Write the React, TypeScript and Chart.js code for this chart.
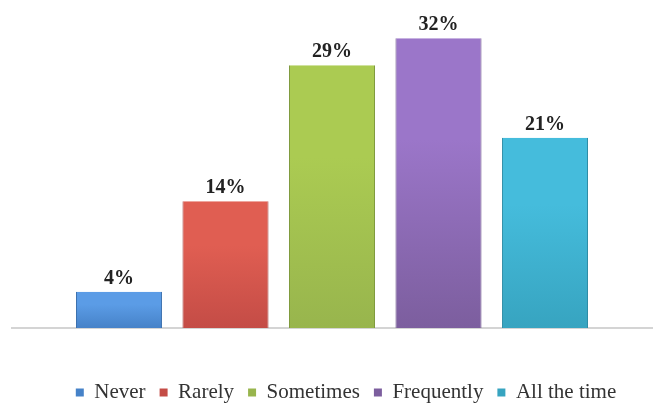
import React, { useEffect, useRef } from "react";
import { Chart, registerables } from "chart.js";

Chart.register(...registerables);

// Survey answers, share of respondents (%)
const responses = ["Never", "Rarely", "Sometimes", "Frequently", "All the time"];
const shares = [4, 14, 29, 32, 21];
// Top (lighter) and bottom (darker) tones of each bar
const topColors = ["#5b9ce6", "#e05e52", "#abcb52", "#9b76c9", "#45bcdc"];
const bottomColors = ["#4682c8", "#c44c46", "#98b54d", "#7c5e9e", "#37a4c0"];
const edgeColors = ["#3c70ad", "#a8403b", "#7f9a3e", "#674d86", "#2e8ca5"];

const SERIF = "'Liberation Serif', 'Times New Roman', serif";

const valueLabels = {
  id: "valueLabels",
  afterDatasetsDraw(chart: any) {
    const { ctx } = chart;
    ctx.save();
    ctx.font = `bold 20px ${SERIF}`;
    ctx.fillStyle = "#222222";
    ctx.textAlign = "center";
    ctx.textBaseline = "alphabetic";
    chart.data.datasets.forEach((ds: any, i: number) => {
      const meta = chart.getDatasetMeta(i);
      const bar = meta.data[0];
      if (!bar) return;
      ctx.fillText(`${ds.data[0]}%`, bar.x, bar.y - 8);
    });
    ctx.restore();
  },
};

// Nudge the legend row a little right and down from its default slot
const legendOffset = {
  id: "legendOffset",
  afterLayout(chart: any) {
    const lg = chart.legend;
    if (!lg) return;
    lg.left += 14;
    lg.right += 14;
    lg.top += 11;
    lg.bottom += 11;
  },
};

function barFill(i: number) {
  return (context: any) => {
    const chart = context.chart;
    const area = chart.chartArea;
    if (!area) return bottomColors[i];
    const yScale = chart.scales.y;
    const top = yScale.getPixelForValue(shares[i]);
    const bottom = yScale.getPixelForValue(0);
    if (!isFinite(top) || !isFinite(bottom) || bottom - top < 1) return bottomColors[i];
    const g = chart.ctx.createLinearGradient(0, top, 0, bottom);
    g.addColorStop(0, topColors[i]);
    g.addColorStop(0.35, topColors[i]);
    g.addColorStop(1, bottomColors[i]);
    return g;
  };
}

export default function App() {
  const canvasRef = useRef<HTMLCanvasElement | null>(null);

  useEffect(() => {
    document.body.style.margin = "0";
    const canvas = canvasRef.current;
    if (!canvas) return;
    const chart = new Chart(canvas, {
      type: "bar",
      data: {
        labels: [""],
        datasets: responses.map((name, i) => ({
          label: name,
          data: [shares[i]],
          backgroundColor: barFill(i),
          borderColor: edgeColors[i],
          borderWidth: { left: 1, right: 1, top: 0, bottom: 0 },
          categoryPercentage: 0.832,
          barPercentage: 0.808,
        })),
      },
      options: {
        animation: false,
        responsive: false,
        maintainAspectRatio: false,
        layout: { padding: { left: 12, right: 10, top: 11, bottom: 6 } },
        scales: {
          x: {
            display: true,
            grid: { display: false },
            ticks: { display: false },
            border: { display: true, color: "#d4d4d4", width: 2 },
            afterFit: (scale: any) => {
              scale.height = 29;
            },
          },
          y: {
            display: false,
            min: 0,
            max: 35,
          },
        },
        plugins: {
          title: { display: false },
          tooltip: { enabled: false },
          legend: {
            display: true,
            position: "bottom",
            labels: {
              boxWidth: 8,
              boxHeight: 8,
              padding: 14,
              color: "#333333",
              font: { family: SERIF, size: 21 },
              generateLabels: (c: any) =>
                c.data.datasets.map((ds: any, i: number) => ({
                  text: ds.label,
                  fillStyle: bottomColors[i],
                  strokeStyle: bottomColors[i],
                  lineWidth: 0,
                  hidden: false,
                  datasetIndex: i,
                  fontColor: "#333333",
                })),
            },
          },
        },
      },
      plugins: [valueLabels, legendOffset],
    });
    return () => chart.destroy();
  }, []);

  return (
    <div style={{ width: 662, height: 408, background: "#ffffff" }}>
      <canvas ref={canvasRef} width={662} height={408} style={{ display: "block" }} />
    </div>
  );
}
